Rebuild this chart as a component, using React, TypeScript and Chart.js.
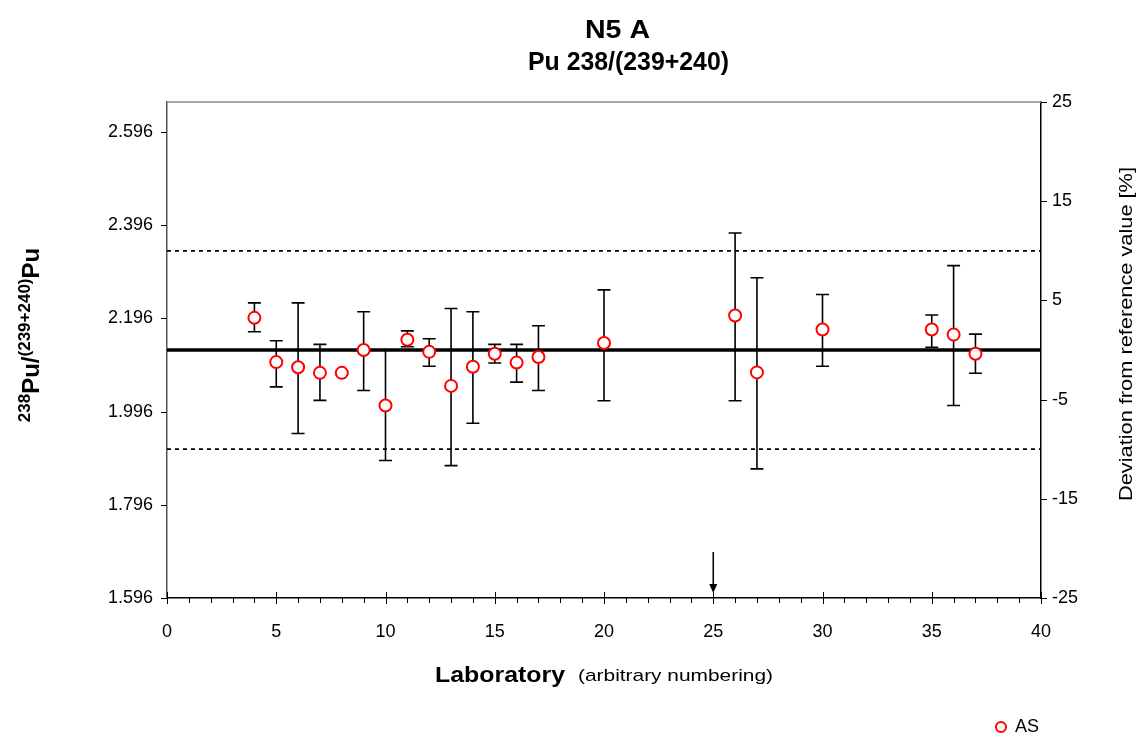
import React, { useEffect, useRef } from "react";
import { Chart, registerables } from "chart.js";

Chart.register(...registerables);

// ---- data ----
const labs = [4, 5, 6, 7, 8, 9, 10, 11, 12, 13, 14, 15, 16, 17, 20, 26, 27, 30, 35, 36, 37];
const values = [2.197, 2.102, 2.091, 2.079, 2.079, 2.128, 2.009, 2.150, 2.124, 2.051, 2.092, 2.120, 2.101, 2.113, 2.143, 2.202, 2.080, 2.172, 2.172, 2.161, 2.120];
const upper = [2.229, 2.148, 2.229, 2.140, 2.083, 2.210, 2.128, 2.169, 2.152, 2.217, 2.210, 2.140, 2.140, 2.180, 2.257, 2.379, 2.283, 2.247, 2.203, 2.309, 2.162];
const lower = [2.167, 2.049, 1.949, 2.020, 2.075, 2.041, 1.891, 2.135, 2.093, 1.880, 1.971, 2.100, 2.059, 2.041, 2.019, 2.019, 1.873, 2.093, 2.134, 2.009, 2.078];
const referenceValue = 2.128;
const limitPercent = 10;
const arrowLab = 25;
const xTicks = [0, 5, 10, 15, 20, 25, 30, 35, 40];
const leftTicks = [1.596, 1.796, 1.996, 2.196, 2.396, 2.596];
const rightTicks = [-25, -15, -5, 5, 15, 25];
const titleLines = ["N5 A", "Pu 238/(239+240)"];
const seriesName = "AS";

const FONT = '"Liberation Sans", Arial, sans-serif';

function fitText(ctx: CanvasRenderingContext2D, text: string, x: number, y: number, width: number) {
  const w = ctx.measureText(text).width;
  const s = width / w;
  ctx.save();
  ctx.translate(x, y);
  ctx.scale(s, 1);
  ctx.fillText(text, 0, 0);
  ctx.restore();
}

const overlayPlugin = {
  id: "overlay",
  beforeDatasetsDraw(chart: any) {
    const ctx = chart.ctx;
    const xs = chart.scales.x;
    const ys = chart.scales.y;
    ctx.save();
    ctx.strokeStyle = "#000";
    ctx.lineWidth = 1.6;
    labs.forEach((lab, i) => {
      const px = xs.getPixelForValue(lab);
      const pTop = ys.getPixelForValue(upper[i]);
      const pBot = ys.getPixelForValue(lower[i]);
      ctx.beginPath();
      ctx.moveTo(px, pTop);
      ctx.lineTo(px, pBot);
      ctx.moveTo(px - 6.5, pTop);
      ctx.lineTo(px + 6.5, pTop);
      ctx.moveTo(px - 6.5, pBot);
      ctx.lineTo(px + 6.5, pBot);
      ctx.stroke();
    });
    ctx.restore();
  },
  afterDraw(chart: any) {
    const ctx = chart.ctx;
    const xs = chart.scales.x;
    const ys = chart.scales.y;
    const y2 = chart.scales.y2;
    const area = chart.chartArea;
    ctx.save();
    // top border
    ctx.strokeStyle = "#888";
    ctx.lineWidth = 1.5;
    ctx.beginPath();
    ctx.moveTo(area.left, area.top);
    ctx.lineTo(area.right, area.top);
    ctx.stroke();
    // x ticks
    ctx.strokeStyle = "#000";
    ctx.lineWidth = 1;
    for (let i = 0; i <= 40; i++) {
      const px = Math.round(xs.getPixelForValue(i)) + 0.5;
      ctx.beginPath();
      if (i % 5 === 0) {
        ctx.moveTo(px, area.bottom - 6);
        ctx.lineTo(px, area.bottom + 6);
      } else {
        ctx.moveTo(px, area.bottom);
        ctx.lineTo(px, area.bottom + 5);
      }
      ctx.stroke();
    }
    // left ticks
    leftTicks.forEach((v) => {
      const py = Math.round(ys.getPixelForValue(v)) + 0.5;
      ctx.beginPath();
      ctx.moveTo(area.left - 6, py);
      ctx.lineTo(area.left, py);
      ctx.stroke();
    });
    // right ticks
    rightTicks.forEach((v) => {
      const py = Math.round(y2.getPixelForValue(v)) + 0.5;
      ctx.beginPath();
      ctx.moveTo(area.right, py);
      ctx.lineTo(area.right + 6, py);
      ctx.stroke();
    });
    // arrow
    const ax = xs.getPixelForValue(arrowLab);
    ctx.lineWidth = 1.5;
    ctx.beginPath();
    ctx.moveTo(ax, area.bottom - 46);
    ctx.lineTo(ax, area.bottom - 8);
    ctx.stroke();
    ctx.fillStyle = "#000";
    ctx.beginPath();
    ctx.moveTo(ax - 4, area.bottom - 14);
    ctx.lineTo(ax + 4, area.bottom - 14);
    ctx.lineTo(ax, area.bottom - 5);
    ctx.closePath();
    ctx.fill();

    // titles
    ctx.fillStyle = "#000";
    ctx.textAlign = "left";
    ctx.textBaseline = "middle";
    ctx.font = `bold 25px ${FONT}`;
    fitText(ctx, titleLines[0], 585, 31, 65);
    fitText(ctx, titleLines[1], 528, 63, 201);

    // x title
    ctx.font = `bold 22px ${FONT}`;
    fitText(ctx, "Laboratory", 435, 676, 130);
    ctx.font = `17px ${FONT}`;
    fitText(ctx, "(arbitrary numbering)", 578, 676, 195);

    // right title
    ctx.save();
    ctx.translate(1127, 334);
    ctx.rotate(-Math.PI / 2);
    ctx.font = `19px ${FONT}`;
    fitText(ctx, "Deviation from reference value [%]", -167, 0, 334);
    ctx.restore();

    // left title with superscripts
    ctx.save();
    ctx.translate(30, 335);
    ctx.rotate(-Math.PI / 2);
    const parts = [
      { t: "238", sup: true },
      { t: "Pu/", sup: false },
      { t: "(239+240)", sup: true },
      { t: "Pu", sup: false },
    ];
    const bigFont = `bold 24px ${FONT}`;
    const supFont = `bold 17px ${FONT}`;
    let total = 0;
    parts.forEach((p) => {
      ctx.font = p.sup ? supFont : bigFont;
      total += ctx.measureText(p.t).width;
    });
    let cx = -total / 2;
    ctx.textAlign = "left";
    ctx.textBaseline = "alphabetic";
    parts.forEach((p) => {
      ctx.font = p.sup ? supFont : bigFont;
      ctx.fillText(p.t, cx, p.sup ? 0 : 9);
      cx += ctx.measureText(p.t).width;
    });
    ctx.restore();

    // legend
    ctx.strokeStyle = "#ff0000";
    ctx.fillStyle = "#fff";
    ctx.lineWidth = 2;
    ctx.beginPath();
    ctx.arc(1001, 727, 5, 0, Math.PI * 2);
    ctx.fill();
    ctx.stroke();
    ctx.fillStyle = "#000";
    ctx.font = `18px ${FONT}`;
    ctx.textAlign = "left";
    ctx.textBaseline = "middle";
    ctx.fillText(seriesName, 1015, 727);

    ctx.restore();
  },
};

export default function App() {
  const ref = useRef<HTMLCanvasElement | null>(null);
  useEffect(() => {
    if (!ref.current) return;
    const chart = new Chart(ref.current, {
      type: "scatter",
      data: {
        datasets: [
          {
            label: seriesName,
            data: labs.map((l, i) => ({ x: l, y: values[i] })),
            pointRadius: 6,
            pointBorderWidth: 2,
            borderColor: "#ff0000",
            backgroundColor: "#ffffff",
            pointBackgroundColor: "#ffffff",
            pointBorderColor: "#ff0000",
            showLine: false,
          },
          {
            label: "ref",
            type: "line",
            data: [
              { x: 0, y: referenceValue },
              { x: 40, y: referenceValue },
            ],
            borderColor: "#000",
            borderWidth: 3.5,
            pointRadius: 0,
          },
          {
            label: "upper",
            type: "line",
            data: [
              { x: 0, y: referenceValue * (1 + limitPercent / 100) },
              { x: 40, y: referenceValue * (1 + limitPercent / 100) },
            ],
            borderColor: "#000",
            borderWidth: 1.8,
            borderDash: [4, 4],
            pointRadius: 0,
          },
          {
            label: "lower",
            type: "line",
            data: [
              { x: 0, y: referenceValue * (1 - limitPercent / 100) },
              { x: 40, y: referenceValue * (1 - limitPercent / 100) },
            ],
            borderColor: "#000",
            borderWidth: 1.8,
            borderDash: [4, 4],
            pointRadius: 0,
          },
        ],
      },
      options: {
        animation: false,
        responsive: false,
        devicePixelRatio: 1,
        layout: { padding: { top: 102, left: 0, right: 0, bottom: 0 } },
        plugins: {
          legend: { display: false },
          tooltip: { enabled: false },
          title: { display: false },
        },
        scales: {
          x: {
            type: "linear",
            min: 0,
            max: 40,
            afterBuildTicks: (s: any) => {
              s.ticks = xTicks.map((v) => ({ value: v }));
            },
            afterFit: (s: any) => {
              s.height = 142;
            },
            grid: { display: false, drawTicks: false },
            border: { display: true, color: "#000", width: 1.5 },
            ticks: {
              padding: 23,
              color: "#000",
              font: { family: FONT, size: 18 },
              maxRotation: 0,
            },
          },
          y: {
            type: "linear",
            position: "left",
            min: leftTicks[0],
            max: referenceValue * 1.25,
            afterBuildTicks: (s: any) => {
              s.ticks = leftTicks.map((v) => ({ value: v }));
            },
            afterFit: (s: any) => {
              s.width = 167;
            },
            grid: { display: false, drawTicks: false },
            border: { display: true, color: "#555", width: 1.5 },
            ticks: {
              padding: 14,
              color: "#000",
              font: { family: FONT, size: 18 },
              callback: (v: any) => Number(v).toFixed(3),
            },
          },
          y2: {
            type: "linear",
            position: "right",
            min: -25,
            max: 25,
            afterBuildTicks: (s: any) => {
              s.ticks = rightTicks.map((v) => ({ value: v }));
            },
            afterFit: (s: any) => {
              s.width = 103;
            },
            grid: { display: false, drawTicks: false },
            border: { display: true, color: "#000", width: 1.5 },
            ticks: {
              padding: 11,
              color: "#000",
              font: { family: FONT, size: 18 },
              callback: (v: any) => String(v),
            },
          },
        },
      },
      plugins: [overlayPlugin],
    });
    return () => chart.destroy();
  }, []);
  return (
    <div style={{ position: "absolute", left: 0, top: 0, width: 1144, height: 740, background: "#fff" }}>
      <canvas ref={ref} width={1144} height={740} />
    </div>
  );
}
